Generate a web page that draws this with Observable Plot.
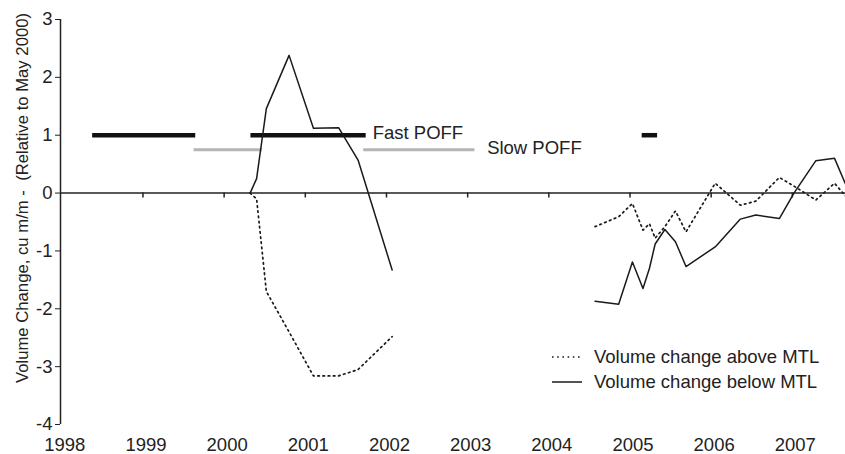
<!DOCTYPE html>
<html>
<head>
<meta charset="utf-8">
<script src="https://cdn.jsdelivr.net/npm/d3@7"></script>
<script src="https://cdn.jsdelivr.net/npm/@observablehq/plot@0.6"></script>
<style>
  html, body { margin: 0; padding: 0; background: #fff; }
  #wrap { position: relative; width: 845px; height: 454px; font-family: "Liberation Sans", Arial, Helvetica, sans-serif; color: #222; }
  #legend { position: absolute; left: 552px; top: 344px; font-size: 18.5px; }
  #legend .row { display: flex; align-items: center; height: 25px; white-space: nowrap; }
  #legend svg { margin-right: 12px; }
  #ytitle { position: absolute; left: 23px; top: 198px; transform: translate(-50%, -50%) rotate(-90deg); font-size: 16.7px; white-space: pre; line-height: 1; }
</style>
</head>
<body>
<div id="wrap"><div id="chart"></div><div id="ytitle"></div><div id="legend"></div></div>
<script>
// ---- Data ----
// Survey period 1 (2000-2002)
const datesA = [2000.32, 2000.40, 2000.52, 2000.80, 2001.10, 2001.41, 2001.65, 2002.07];
const belowA = [0, 0.25, 1.46, 2.38, 1.12, 1.13, 0.57, -1.33];
const aboveA = [0, -0.10, -1.70, -2.40, -3.16, -3.16, -3.05, -2.48];
// Survey period 2 (2004-2007)
const datesB = [2004.57, 2004.86, 2005.03, 2005.16, 2005.24, 2005.31, 2005.43, 2005.56, 2005.69,
                2006.05, 2006.36, 2006.55, 2006.84, 2007.02, 2007.29, 2007.52, 2007.66];
const belowB = [-1.87, -1.92, -1.19, -1.65, -1.30, -0.88, -0.63, -0.84, -1.27,
                -0.93, -0.45, -0.38, -0.44, 0.00, 0.56, 0.60, 0.14];
const aboveB = [-0.58, -0.41, -0.18, -0.64, -0.53, -0.78, -0.58, -0.31, -0.67,
                0.17, -0.21, -0.14, 0.27, 0.12, -0.12, 0.17, -0.06];
// POFF periods
const fastStart = [1998.38, 2000.33, 2005.15];
const fastEnd   = [1999.65, 2001.75, 2005.34];
const fastLevel = 1;
const slowStart = [1999.63, 2001.72];
const slowEnd   = [2000.47, 2003.09];
const slowLevel = 0.75;
const poffLabels = ["Fast POFF", "Slow POFF"];
const poffLabelX = [2001.83, 2003.24];
const poffLabelY = [1.03, 0.78];
// Axes
const xTicks = [1998, 1999, 2000, 2001, 2002, 2003, 2004, 2005, 2006, 2007];
const yTicks = [-4, -3, -2, -1, 0, 1, 2, 3];
const xDomain = [1997.984, 2007.655];
const yDomain = [-4, 3];
const yTitle = "Volume Change, cu m/m -  (Relative to May 2000)";
const seriesNames = ["Volume change above MTL", "Volume change below MTL"];

// ---- Build tables ----
const rows = [];
datesA.forEach((d, i) => {
  rows.push({date: d, value: aboveA[i], series: seriesNames[0], seg: "A-above"});
  rows.push({date: d, value: belowA[i], series: seriesNames[1], seg: "A-below"});
});
datesB.forEach((d, i) => {
  rows.push({date: d, value: aboveB[i], series: seriesNames[0], seg: "B-above"});
  rows.push({date: d, value: belowB[i], series: seriesNames[1], seg: "B-below"});
});
const aboveRows = rows.filter(r => r.series === seriesNames[0]);
const belowRows = rows.filter(r => r.series === seriesNames[1]);
const fast = fastStart.map((s, i) => ({x1: s, x2: fastEnd[i], y: fastLevel}));
const slow = slowStart.map((s, i) => ({x1: s, x2: slowEnd[i], y: slowLevel}));
const labels = poffLabels.map((t, i) => ({text: t, x: poffLabelX[i], y: poffLabelY[i]}));

const ink = "#222";
const dotted = "1.6,3.6";
const chart = Plot.plot({
  width: 845,
  height: 454,
  marginLeft: 60,
  marginRight: 0,
  marginTop: 19,
  marginBottom: 30,
  x: {domain: xDomain},
  y: {domain: yDomain},
  style: {fontFamily: "'Liberation Sans', Arial, Helvetica, sans-serif", fontSize: "18.5px", color: ink, background: "white", overflow: "visible"},
  marks: [
    Plot.ruleY(slow, {x1: "x1", x2: "x2", y: "y", stroke: "#b5b5b5", strokeWidth: 3}),
    Plot.ruleY(fast, {x1: "x1", x2: "x2", y: "y", stroke: "#111", strokeWidth: 4.5}),
    Plot.ruleY([0], {stroke: ink, strokeWidth: 1.5}),
    Plot.ruleX([xDomain[0]], {stroke: ink, strokeWidth: 1.5}),
    Plot.ruleX(xTicks.slice(1), {x: d => d, y1: 0, y2: -0.085, stroke: ink, strokeWidth: 1.5}),
    Plot.axisY({ticks: yTicks, tickSize: 5, tickPadding: 3, tickFormat: d => String(d), label: null}),
    Plot.axisX({ticks: xTicks, tickSize: 0, tickPadding: 13, tickFormat: d => String(d), label: null, dx: 3}),
    Plot.line(aboveRows, {x: "date", y: "value", z: "seg", stroke: "#1a1a1a", strokeWidth: 1.7, strokeDasharray: dotted}),
    Plot.line(belowRows, {x: "date", y: "value", z: "seg", stroke: "#1a1a1a", strokeWidth: 1.5}),
    Plot.text(labels, {x: "x", y: "y", text: "text", textAnchor: "start", fill: ink, fontSize: 18.5})
  ]
});
document.getElementById("chart").appendChild(chart);
document.getElementById("ytitle").textContent = yTitle;

// ---- Legend (inside plot area, lower right) ----
const legend = document.getElementById("legend");
const dashes = [dotted, null];
seriesNames.forEach((name, i) => {
  const row = document.createElement("div");
  row.className = "row";
  const dash = dashes[i] ? ` stroke-dasharray="${dashes[i]}"` : "";
  row.innerHTML = `<svg width="30" height="10"><line x1="0" x2="30" y1="5" y2="5" stroke="#1a1a1a" stroke-width="1.5"${dash}/></svg><span>${name}</span>`;
  legend.appendChild(row);
});
</script>
</body>
</html>
